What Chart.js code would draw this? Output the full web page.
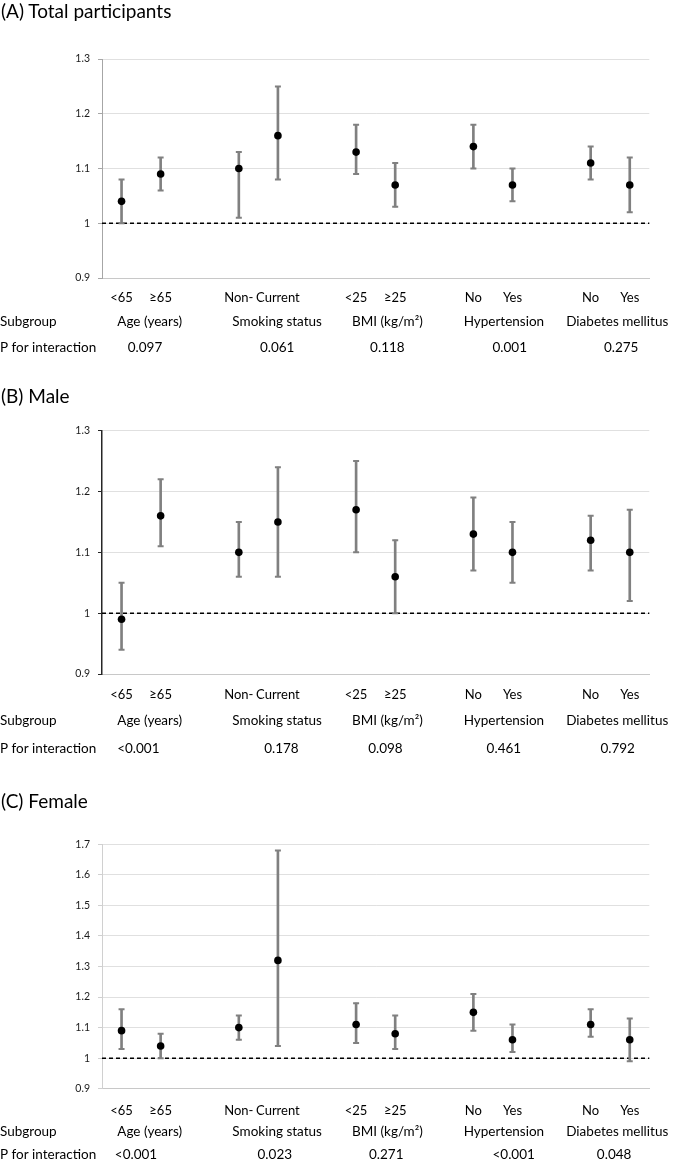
<!DOCTYPE html>
<html><head><meta charset="utf-8">
<script src="https://cdn.jsdelivr.net/npm/chart.js@4.4.0/dist/chart.umd.min.js"></script>
<style>
html,body{margin:0;padding:0;background:#fff;}
body{width:673px;height:1161px;position:relative;overflow:hidden;font-family:Lato, sans-serif;}
.panel{position:absolute;left:0;width:673px;}
.title{position:absolute;left:1px;font-size:19px;line-height:24px;color:#000;white-space:nowrap;}
</style></head><body>
<div class="panel" style="top:0px;height:375px"><canvas id="cA"></canvas></div>
<div class="panel" style="top:375px;height:385px"><canvas id="cB"></canvas></div>
<div class="panel" style="top:760px;height:401px"><canvas id="cC"></canvas></div>
<div class="title" id="tA" style="top:-1px"></div>
<div class="title" id="tB" style="top:384px"></div>
<div class="title" id="tC" style="top:789px"></div>
<script>
// ---------- data ----------
const panelTitles = ['(A) Total participants', '(B) Male', '(C) Female'];
const subgroupLabels = ['<65', '≥65', 'Non-', 'Current', '<25', '≥25', 'No', 'Yes', 'No', 'Yes'];
const groupNames = ['Age (years)', 'Smoking status', 'BMI (kg/m²)', 'Hypertension', 'Diabetes mellitus'];
const rowSubgroup = 'Subgroup';
const rowP = 'P for interaction';
const refValue = 1;

const totalEst  = [1.04, 1.09, 1.10, 1.16, 1.13, 1.07, 1.14, 1.07, 1.11, 1.07];
const totalLow  = [1.00, 1.06, 1.01, 1.08, 1.09, 1.03, 1.10, 1.04, 1.08, 1.02];
const totalHigh = [1.08, 1.12, 1.13, 1.25, 1.18, 1.11, 1.18, 1.10, 1.14, 1.12];
const totalP    = ['0.097', '0.061', '0.118', '0.001', '0.275'];

const maleEst  = [0.99, 1.16, 1.10, 1.15, 1.17, 1.06, 1.13, 1.10, 1.12, 1.10];
const maleLow  = [0.94, 1.11, 1.06, 1.06, 1.10, 1.00, 1.07, 1.05, 1.07, 1.02];
const maleHigh = [1.05, 1.22, 1.15, 1.24, 1.25, 1.12, 1.19, 1.15, 1.16, 1.17];
const maleP    = ['<0.001', '0.178', '0.098', '0.461', '0.792'];

const femaleEst  = [1.09, 1.04, 1.10, 1.32, 1.11, 1.08, 1.15, 1.06, 1.11, 1.06];
const femaleLow  = [1.03, 1.00, 1.06, 1.04, 1.05, 1.03, 1.09, 1.02, 1.07, 0.99];
const femaleHigh = [1.16, 1.08, 1.14, 1.68, 1.18, 1.14, 1.21, 1.11, 1.16, 1.13];
const femaleP    = ['<0.001', '0.023', '0.271', '<0.001', '0.048'];

// ---------- layout (positions / styles) ----------
const FONT = 'Lato';
const groupLabelPos = [0.72, 3.98, 6.8, 9.78, 12.68];   // fractional category index
const layouts = [
  {id:'cA', title:'tA', min:0.9, max:1.3, padTop:59, padBottom:67, tickPad:12, groupDy:44, pDy:70,
   pPos:[0.60, 3.98, 6.80, 9.93, 12.78], axisColor:'#a6a6a6', axisWidth:1},
  {id:'cB', title:'tB', min:0.9, max:1.3, padTop:55.7, padBottom:56, tickPad:13.5, groupDy:46.7, pDy:74.7,
   pPos:[0.43, 4.09, 6.75, 9.78, 12.69], axisColor:'#262626', axisWidth:1.5},
  {id:'cC', title:'tC', min:0.9, max:1.7, padTop:84.3, padBottom:42.3, tickPad:14, groupDy:43, pDy:65.6,
   pPos:[0.37, 3.92, 6.77, 10.03, 12.6], axisColor:'#d0d0d0', axisWidth:1}
];
const panels = [
  {est: totalEst, low: totalLow, high: totalHigh, p: totalP},
  {est: maleEst, low: maleLow, high: maleHigh, p: maleP},
  {est: femaleEst, low: femaleLow, high: femaleHigh, p: femaleP}
];

// insert an empty category slot after each pair
function toSlots(arr, empty) {
  const out = [];
  arr.forEach((v, i) => { out.push(v); if (i % 2 === 1 && i < arr.length - 1) out.push(empty); });
  return out;
}

Chart.defaults.font.family = FONT;
Chart.defaults.color = '#000';

function makePlugin(L, P) {
  return {
    id: 'rowsRef',
    beforeDatasetsDraw(chart) {
      const {ctx, chartArea: a, scales: {y}} = chart;
      const yy = Math.round(y.getPixelForValue(refValue)) + 0.25;
      ctx.save();
      ctx.setLineDash([4, 3]);
      ctx.lineWidth = 1.5;
      ctx.strokeStyle = '#000';
      ctx.beginPath(); ctx.moveTo(a.left, yy); ctx.lineTo(a.right, yy); ctx.stroke();
      ctx.restore();
    },
    afterDraw(chart) {
      const {ctx, chartArea: a, scales: {x}} = chart;
      ctx.save();
      ctx.font = '13.5px ' + FONT;
      ctx.fillStyle = '#000';
      ctx.textBaseline = 'middle';
      ctx.textAlign = 'left';
      ctx.fillText(rowSubgroup, 0, a.bottom + L.groupDy);
      ctx.fillText(rowP, 0, a.bottom + L.pDy);
      ctx.textAlign = 'center';
      groupNames.forEach((g, i) => ctx.fillText(g, x.getPixelForValue(groupLabelPos[i]), a.bottom + L.groupDy));
      P.p.forEach((p, i) => ctx.fillText(p, x.getPixelForValue(L.pPos[i]), a.bottom + L.pDy));
      ctx.restore();
    }
  };
}

layouts.forEach((L, k) => {
  const P = panels[k];
  document.getElementById(L.title).textContent = panelTitles[k];
  const labels = toSlots(subgroupLabels, '');
  const ranges = toSlots(P.low.map((l, i) => [l, P.high[i]]), null);
  new Chart(document.getElementById(L.id), {
    type: 'bar',
    data: {
      labels: labels,
      datasets: [
        {type: 'bar', data: ranges, backgroundColor: '#808080', borderWidth: 0, barThickness: 2, order: 3},
        {type: 'line', data: toSlots(P.low, null), showLine: false, pointStyle: 'line', pointRadius: 3,
         pointBorderWidth: 2, pointBorderColor: '#808080', pointBackgroundColor: '#808080', order: 2},
        {type: 'line', data: toSlots(P.high, null), showLine: false, pointStyle: 'line', pointRadius: 3,
         pointBorderWidth: 2, pointBorderColor: '#808080', pointBackgroundColor: '#808080', order: 2},
        {type: 'line', data: toSlots(P.est, null), showLine: false, pointStyle: 'circle', pointRadius: 3.8,
         pointBorderWidth: 0, pointBackgroundColor: '#000', pointBorderColor: '#000', order: 1}
      ]
    },
    options: {
      responsive: true, maintainAspectRatio: false, animation: false, events: [],
      layout: {padding: {left: 0, right: 23.7, top: L.padTop, bottom: L.padBottom}},
      plugins: {legend: {display: false}, tooltip: {enabled: false}, title: {display: false}},
      scales: {
        x: {
          type: 'category', offset: true,
          grid: {display: false, drawTicks: false},
          border: {display: true, color: '#c8c8c8', width: 1},
          ticks: {autoSkip: false, maxRotation: 0, minRotation: 0, padding: L.tickPad, color: '#000', font: {size: 13}},
          afterFit(s) { s.height = 30; }
        },
        y: {
          type: 'linear', min: L.min, max: L.max,
          ticks: {stepSize: 0.1, padding: 8, color: '#1a1a1a', font: {size: 10.5},
                  callback: v => String(Number(Number(v).toFixed(2)))},
          grid: {color: '#e0e0e0', lineWidth: 1, drawTicks: true, tickLength: 4, tickColor: L.axisColor},
          border: {display: true, color: L.axisColor, width: L.axisWidth},
          afterFit(s) { s.width = 102; }
        }
      }
    },
    plugins: [makePlugin(L, P)]
  });
});
</script>
</body></html>
